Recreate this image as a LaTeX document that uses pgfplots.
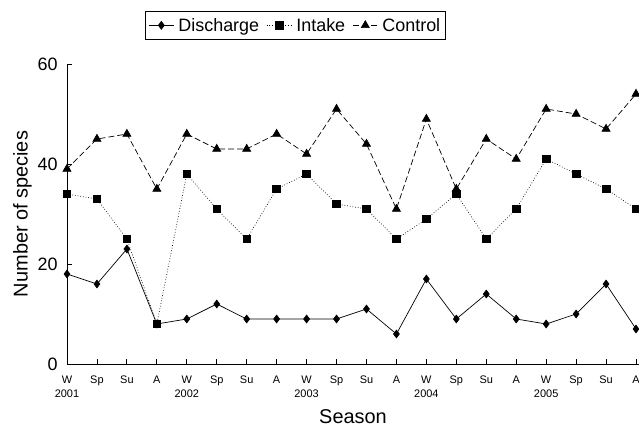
\documentclass[border=0pt]{standalone}
\usepackage{fontspec}
\setmainfont{Liberation Sans}
\usepackage{pgfplots}
\pgfplotsset{compat=1.18}

\begin{document}
\begin{tikzpicture}
\begin{axis}[
    name=ax,
    scale only axis,
    width=572bp, height=300bp,
    xmin=0, xmax=19.1,
    ymin=0, ymax=60,
    axis lines=left,
    axis line style={-, line width=0.8pt},
    tick style={line width=0.8pt, black},
    tick align=inside,
    major tick length=5bp,
    ytick={0,20,40,60},
    xtick={0,...,19},
    xticklabels={{W\\2001},Sp,Su,A,{W\\2002},Sp,Su,A,{W\\2003},Sp,Su,A,
                 {W\\2004},Sp,Su,A,{W\\2005},Sp,Su,A},
    xticklabel style={align=center, font=\fontsize{11}{14}\selectfont, yshift=-8bp},
    yticklabel style={font=\fontsize{18}{20}\selectfont, xshift=-6bp},
    /pgf/number format/assume math mode=true,
    xlabel={Season},
    ylabel={Number of species},
    label style={font=\fontsize{20}{22}\selectfont},
    xlabel style={at={(axis description cs:0.5,0)}, anchor=center, yshift=-53bp},
    ylabel style={yshift=-1bp},
    legend columns=3,
    legend style={at={(0.399,1.177)}, anchor=north, draw=black,
                  font=\fontsize{18}{20}\selectfont, inner xsep=3bp, inner ysep=5bp,
                  /tikz/every odd column/.append style={column sep=2bp},
                  /tikz/every even column/.append style={column sep=5bp}},
    legend image code/.code={
        \draw[#1, mark repeat=2, mark phase=2]
            plot coordinates {(0cm,0cm) (0.45cm,0cm) (0.9cm,0cm)};},
]
\addplot[black, line width=0.7pt, mark=diamond*, mark size=3.9bp,
         mark options={solid}] coordinates {
 (0,18)(1,16)(2,23)(3,8)(4,9)(5,12)(6,9)(7,9)(8,9)(9,9)
 (10,11)(11,6)(12,17)(13,9)(14,14)(15,9)(16,8)(17,10)(18,16)(19,7)};
\addplot[black, line width=0.7pt, dotted, mark=square*, mark size=3.8bp,
         mark options={solid}] coordinates {
 (0,34)(1,33)(2,25)(3,8)(4,38)(5,31)(6,25)(7,35)(8,38)(9,32)
 (10,31)(11,25)(12,29)(13,34)(14,25)(15,31)(16,41)(17,38)(18,35)(19,31)};
\addplot[black, line width=0.7pt, dash pattern=on 6bp off 3bp, mark=triangle*,
         mark size=4.6bp, mark options={solid}] coordinates {
 (0,39)(1,45)(2,46)(3,35)(4,46)(5,43)(6,43)(7,46)(8,42)(9,51)
 (10,44)(11,31)(12,49)(13,35)(14,45)(15,41)(16,51)(17,50)(18,47)(19,54)};
\legend{Discharge, Intake, Control}
\end{axis}
\pgfresetboundingbox
\path[use as bounding box] ([shift={(-67bp,-67bp)}]ax.south west)
    rectangle ([shift={(572bp,364bp)}]ax.south west);
\end{tikzpicture}
\end{document}
